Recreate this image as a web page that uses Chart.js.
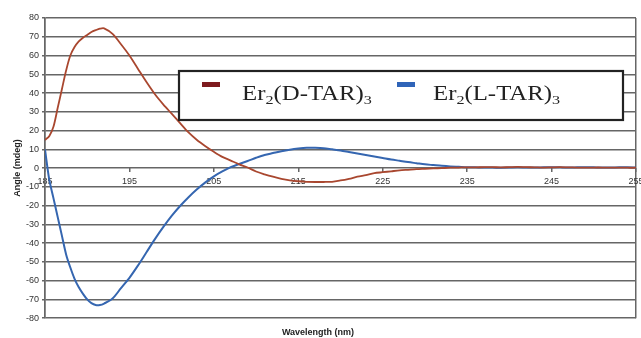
<!DOCTYPE html>
<html>
<head>
<meta charset="utf-8">
<script src="https://cdn.jsdelivr.net/npm/chart.js@4.4.1/dist/chart.umd.min.js"></script>
<style>
html,body{margin:0;padding:0;background:#fff;overflow:hidden;}
#wrap{width:641px;height:338px;position:relative;}
</style>
</head>
<body>
<div id="wrap"><canvas id="c" width="641" height="338"></canvas></div>
<script>
// ---- data ----
const wavelengths = [185,185.5,186,186.5,187,187.5,188,188.5,189,189.5,190,190.5,191,191.5,192,
  193,194,195,196,197,198,199,200,201,202,203,204,205,206,207,208,209,210,211,212,213,214,215,216,217,218,219,220,
  221,222,223,224,225,226,227,228,229,230,231,232,233,234,235,236,237,238,239,240,241,242,243,244,245,246,247,248,249,250,251,252,253,254,255];
const erD = [15,17,22,32,42,52,60,64.5,67.5,69.5,71,72.5,73.5,74.3,74.5,
  71.5,66,60,53,46,39.5,34,29,24,19,15,11.7,8.7,6,4,2,0.3,-1.8,-3.3,-4.6,-5.7,-6.5,-7,-7.3,-7.4,-7.4,-7.3,-6.6,
  -5.7,-4.6,-3.7,-2.7,-2.2,-1.7,-1.2,-0.9,-0.6,-0.4,-0.2,0,0.2,0.3,0.4,0.4,0.5,0.5,0.4,0.5,0.6,0.5,0.4,0.3,0.4,0.5,0.4,0.3,0.2,0.3,0.3,0.2,0.3,0.2,0.2];
const erL = [10,-6,-16,-26,-36,-46,-53,-59,-63.5,-67,-70,-72,-73,-73,-72.2,
  -69.5,-64,-58.5,-52,-45,-38,-31.5,-25.5,-20.2,-15.5,-11.3,-7.6,-4.4,-1.8,0.5,2.2,3.8,5.5,7,8,9,9.8,10.4,10.8,10.8,10.6,10,9.4,
  8.6,7.8,7,6.2,5.4,4.6,3.9,3.2,2.6,2,1.6,1.2,0.9,0.7,0.5,0.4,0.3,0.3,0.2,0.3,0.4,0.3,0.3,0.4,0.5,0.4,0.3,0.4,0.5,0.4,0.3,0.3,0.4,0.4,0.3];
const seriesLabels = ['Er2(D-TAR)3','Er2(L-TAR)3'];
const xTicks = [185,195,205,215,225,235,245,255];
const xTitle = 'Wavelength (nm)';
const yTitle = 'Angle (mdeg)';

const lineColors = ['#A9472F','#3566B0'];
const markColors = ['#7E1A1E','#2F64B8'];
const gridCol = '#666';

const toPts = arr => wavelengths.map((w,i)=>({x:w,y:arr[i]}));

const legendPlugin = {
  id:'boxLegend',
  afterDraw(chart){
    const ctx = chart.ctx, ca = chart.chartArea;
    const bx = ca.left + 134, by = ca.top + 53, bw = 444, bh = 49;
    ctx.save();
    ctx.fillStyle = '#fff';
    ctx.fillRect(bx,by,bw,bh);
    ctx.lineWidth = 2.2;
    ctx.strokeStyle = '#222';
    ctx.strokeRect(bx,by,bw,bh);
    const entries = [{mx:bx+23, tx:bx+63},{mx:bx+218, tx:bx+254}];
    const sx = 1.24;
    chart.data.datasets.forEach((ds,i)=>{
      const e = entries[i];
      ctx.fillStyle = markColors[i];
      ctx.fillRect(e.mx, by+11, 18, 5);
      const base = by+29;
      ctx.save();
      ctx.translate(e.tx, 0);
      ctx.scale(sx, 1);
      let x = 0;
      ctx.fillStyle = '#222';
      ctx.textBaseline = 'alphabetic';
      const parts = ds.label.match(/\d|[^\d]+/g);
      parts.forEach(p=>{
        const sub = /^\d$/.test(p);
        ctx.font = sub ? '13px "Liberation Serif"' : '20px "Liberation Serif"';
        ctx.fillText(p, x, sub ? base+4 : base);
        x += ctx.measureText(p).width;
      });
      ctx.restore();
    });
    ctx.restore();
  }
};

new Chart(document.getElementById('c'), {
  type:'line',
  data:{
    datasets:[
      {label:seriesLabels[0], data:toPts(erD), borderColor:lineColors[0], borderWidth:1.8, pointRadius:0, tension:0.3, fill:false},
      {label:seriesLabels[1], data:toPts(erL), borderColor:lineColors[1], borderWidth:2, pointRadius:0, tension:0.3, fill:false}
    ]
  },
  options:{
    responsive:false,
    animation:false,
    layout:{padding:{top:18,right:5,left:0,bottom:0}},
    plugins:{
      legend:{display:false},
      tooltip:{enabled:false},
      title:{display:true, position:'bottom', text:xTitle, color:'#222',
        font:{family:'Liberation Sans', size:9, weight:'bold'}, padding:{top:9,bottom:0}}
    },
    scales:{
      x:{
        type:'linear', min:185, max:255, position:{y:0},
        afterBuildTicks:s=>{ s.ticks = xTicks.map(v=>({value:v})); },
        afterFit:s=>{ s.paddingLeft=0; s.paddingRight=0; },
        ticks:{color:'#333', font:{family:'Liberation Sans', size:9}, padding:4, maxRotation:0, autoSkip:false},
        grid:{drawOnChartArea:true, color:c=>(c.tick && (c.tick.value===185||c.tick.value===255))?gridCol:'rgba(0,0,0,0)',
              tickColor:gridCol, tickLength:4, lineWidth:1.5},
        border:{display:false}
      },
      y:{
        min:-80, max:80,
        afterFit:s=>{ s.width=45; s.paddingTop=0; s.paddingBottom=0; },
        ticks:{stepSize:10, color:'#333', font:{family:'Liberation Sans', size:9}, padding:3},
        grid:{color:gridCol, lineWidth:1.5, tickLength:3, tickColor:gridCol},
        border:{display:true, color:gridCol, width:1.5},
        title:{display:true, text:yTitle, color:'#222', font:{family:'Liberation Sans', size:9, weight:'bold'}, padding:{top:12,bottom:2}}
      }
    }
  },
  plugins:[legendPlugin]
});
</script>
</body>
</html>
